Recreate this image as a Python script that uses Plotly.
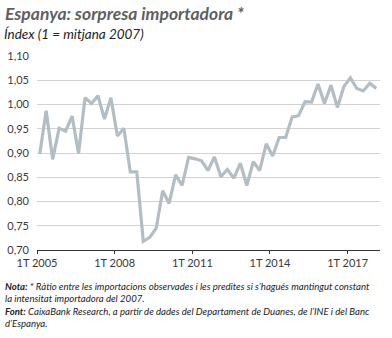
import plotly.graph_objects as go

# Quarterly data, 1T 2005 .. 1T 2018
start_year = 2005
values = [0.898, 0.987, 0.887, 0.951, 0.945, 0.976, 0.899, 1.014, 1.002, 1.018,
          0.970, 1.014, 0.935, 0.951, 0.861, 0.861, 0.718, 0.726, 0.745, 0.822,
          0.796, 0.855, 0.833, 0.891, 0.888, 0.884, 0.864, 0.892, 0.851, 0.866,
          0.848, 0.879, 0.833, 0.882, 0.864, 0.919, 0.894, 0.932, 0.932, 0.974,
          0.977, 1.006, 1.005, 1.042, 1.002, 1.040, 0.994, 1.037, 1.055, 1.033,
          1.028, 1.044, 1.033]
quarters = [f"{q}T {start_year + i // 4}" for i, q in enumerate([1, 2, 3, 4] * 14)][:len(values)]
x_tick_labels = ["1T 2005", "1T 2008", "1T 2011", "1T 2014", "1T 2017"]
y_ticks = [0.70, 0.75, 0.80, 0.85, 0.90, 0.95, 1.00, 1.05, 1.10]

# numeric quarter position (points centred inside their quarter)
def qpos(label):
    q, y = label.split("T ")
    return (int(y) - start_year) * 4 + int(q) - 1

xs = [qpos(l) + 0.42 for l in quarters]
tickvals = [qpos(l) for l in x_tick_labels]

fig = go.Figure()
fig.add_trace(go.Scatter(x=xs, y=values, mode="lines",
                         line=dict(color="#b3bec4", width=3.2),
                         hoverinfo="skip"))

fig.update_layout(
    width=392, height=338,
    margin=dict(l=37, r=12, t=56, b=88),
    paper_bgcolor="white", plot_bgcolor="white",
    showlegend=False,
    font=dict(family="Lato, 'Open Sans', sans-serif", color="#3a3a3a", size=11),
)
fig.update_xaxes(range=[0, 53], tickvals=tickvals, ticktext=x_tick_labels,
                 showgrid=False, showline=True, linecolor="#333333", linewidth=1,
                 ticks="outside", ticklen=3, tickcolor="#333333", automargin=False,
                 tickfont=dict(size=11, color="#3a3a3a"), zeroline=False)
fig.update_yaxes(range=[0.70, 1.10], tickvals=y_ticks,
                 ticktext=[f"{v:.2f}".replace(".", ",") for v in y_ticks],
                 showgrid=True, gridcolor="#d2d2d2", gridwidth=1, automargin=False,
                 showline=False, zeroline=False, ticks="", ticklabelstandoff=7,
                 tickfont=dict(size=11, color="#3a3a3a"))

fig.add_annotation(text="Espanya: sorpresa importadora *", xref="paper", yref="paper",
                   x=0, y=1, xanchor="left", yanchor="bottom", showarrow=False,
                   font=dict(size=17.5, color="#5f5f5f", family="Lato", weight="bold", style="italic"),
                   xshift=-34, yshift=30)
fig.add_annotation(text="Índex (1 = mitjana 2007)", xref="paper", yref="paper",
                   x=0, y=1, xanchor="left", yanchor="bottom", showarrow=False,
                   font=dict(size=13.5, color="#222222", family="Lato", style="italic"),
                   xshift=-35, yshift=12)
notes = ("<b>Nota:</b> * Ràtio entre les importacions observades i les predites si s’hagués mantingut constant<br>"
         "la intensitat importadora del 2007.<br>"
         "<b>Font:</b> CaixaBank Research, a partir de dades del Departament de Duanes, de l’INE i del Banc<br>"
         "d’Espanya.")
fig.add_annotation(text=notes, xref="paper", yref="paper", x=0, y=0,
                   xanchor="left", yanchor="top", align="left", showarrow=False,
                   font=dict(size=9.6, color="#222222", family="Lato", style="italic"),
                   xshift=-34, yshift=-29)

fig.write_html("out.html")
